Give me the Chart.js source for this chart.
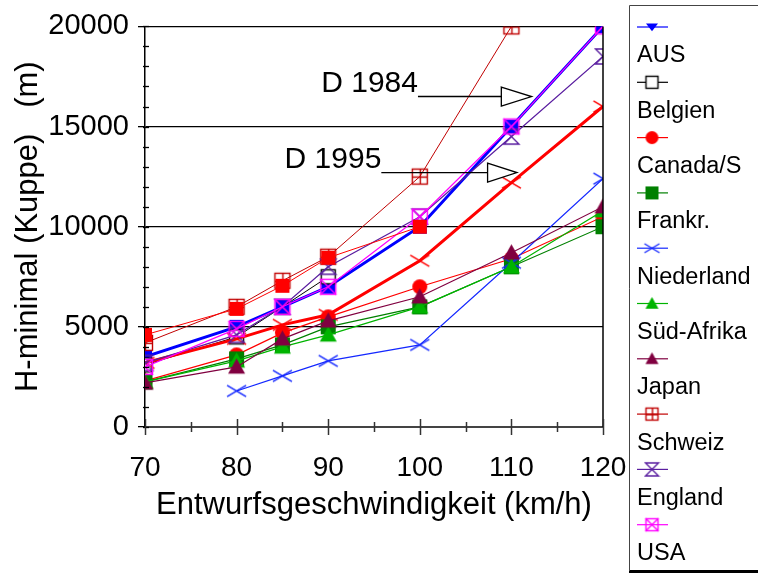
<!DOCTYPE html>
<html><head><meta charset="utf-8">
<script src="https://cdn.jsdelivr.net/npm/chart.js@4/dist/chart.umd.min.js"></script>
<style>html,body{margin:0;padding:0;background:#fff}#wrap{width:758px;height:576px;position:relative}</style>
</head><body><div id="wrap"><canvas id="c" width="758" height="576"></canvas></div>
<script>
// ---- data ----
const speeds = [70, 80, 85, 90, 100, 110, 120];
const xTicks = [70, 80, 90, 100, 110, 120];
const yTicks = [0, 5000, 10000, 15000, 20000];
const legendNames = ['AUS','Belgien','Canada/S','Frankr.','Niederland','Süd-Afrika','Japan','Schweiz','England','USA'];
const aus        = [3500, 5000, 6000, 7000, 10000, 15000, 20000];
const belgien    = [3100, 4500, null, 7500, null, null, null];
const canada     = [2300, 3600, 4700, 5500, 7000, 8400, 10500];
const frankr     = [2250, 3400, 4100, 5000, 6000, 8000, 10000];
const niederland = [null, 1800, 2550, 3300, 4100, 8200, 12400];
const suedafrika = [2250, 3300, 4000, 4600, 6000, 8000, 10800];
const japan      = [2200, 3000, 4400, 5300, 6500, 8700, 11000];
const schweiz    = [4200, 6000, 7300, 8500, 12500, 20000, null];
const england    = [3200, 4600, 6000, 8000, 10500, 14500, 18500];
const usa        = [3000, 4900, 6000, 7000, 10500, 15000, 20000];
const d1984      = [3500, 5000, 6000, 7000, 10000, 15000, 20000];
const d1995      = [3200, 4400, 5100, 5600, 8300, 12200, 16000];
const redSquares = [4600, 5900, 7050, 8450, 10000, null, null];
const annotations = [
  {text:'D 1984', xText:99.8, xLineEnd:108.9, xTip:112.2, y:16500},
  {text:'D 1995', xText:95.8, xLineEnd:107.4, xTip:110.6, y:12700}
];

const FONT = "'Liberation Sans', Arial, Helvetica, sans-serif";

function drawMarker(g, kind, color, x, y, s) {
  const h = s/2;
  g.save();
  g.strokeStyle = color; g.fillStyle = color; g.lineWidth = 1.4;
  g.beginPath();
  switch(kind) {
    case 'sqFill': g.fillRect(x-h, y-h, s, s); break;
    case 'sqOpen': g.fillStyle='#fff'; g.fillRect(x-h,y-h,s,s); g.strokeRect(x-h+0.5, y-h+0.5, s-1, s-1); break;
    case 'circle': g.arc(x, y, h, 0, Math.PI*2); g.fill(); break;
    case 'tri': g.moveTo(x, y-h); g.lineTo(x+h, y+h*0.8); g.lineTo(x-h, y+h*0.8); g.closePath(); g.fill(); break;
    case 'triDown': g.moveTo(x-h, y-h*0.6); g.lineTo(x+h, y-h*0.6); g.lineTo(x, y+h*0.7); g.closePath(); g.fill(); break;
    case 'x': g.moveTo(x-h, y-h*0.6); g.lineTo(x+h, y+h*0.6); g.moveTo(x+h, y-h*0.6); g.lineTo(x-h, y+h*0.6); g.stroke(); break;
    case 'sqPlus': g.strokeRect(x-h+0.5, y-h+0.5, s-1, s-1); g.moveTo(x+0.5, y-h); g.lineTo(x+0.5, y+h); g.moveTo(x-h, y+0.5); g.lineTo(x+h, y+0.5); g.stroke(); break;
    case 'sqX': g.strokeRect(x-h+0.5, y-h+0.5, s-1, s-1); g.moveTo(x-h, y-h); g.lineTo(x+h, y+h); g.moveTo(x+h, y-h); g.lineTo(x-h, y+h); g.stroke(); break;
    case 'hour': g.moveTo(x-h, y-h); g.lineTo(x+h, y-h); g.lineTo(x-h, y+h); g.lineTo(x+h, y+h); g.closePath(); g.stroke(); break;
  }
  g.restore();
}
function makeMarker(kind, color, s) {
  const c = document.createElement('canvas');
  const n = s + 4;
  c.width = n; c.height = n;
  drawMarker(c.getContext('2d'), kind, color, n/2, n/2, s);
  return c;
}

function ds(label, values, color, kind, size, lw, inLegend, legendSize) {
  return {
    label: label,
    data: speeds.map((v, i) => ({x: v, y: values[i]})),
    borderColor: color, backgroundColor: color,
    borderWidth: lw, pointStyle: makeMarker(kind, color, size),
    pointRadius: size/2, spanGaps: true, tension: 0,
    inLegend: inLegend,
    legendMarker: makeMarker(kind, color, legendSize || 13)
  };
}

const datasets = [
  ds('D 1984', d1984, '#0000ff', 'sqFill', 14, 3, false),
  ds('', redSquares, '#ff0000', 'sqFill', 14, 1, false),
  ds(legendNames[9], usa, '#ff00ff', 'sqX', 16, 1.2, true),
  ds(legendNames[8], england, '#5a1ea0', 'hour', 15, 1.2, true),
  ds(legendNames[7], schweiz, '#c00000', 'sqPlus', 16, 1, true),
  ds(legendNames[6], japan, '#800040', 'tri', 17, 1.2, true),
  ds(legendNames[5], suedafrika, '#00b400', 'tri', 17, 1.2, true),
  ds(legendNames[4], niederland, '#1428ff', 'x', 19, 1.2, true, 15),
  ds(legendNames[3], frankr, '#008000', 'sqFill', 15, 1.2, true),
  ds(legendNames[2], canada, '#ff0000', 'circle', 15, 1.2, true),
  ds('D 1995', d1995, '#ff0000', 'x', 19, 3, false),
  ds(legendNames[1], belgien, '#000000', 'sqOpen', 15, 1, true),
  ds(legendNames[0], aus, '#0000ff', 'triDown', 10, 1.2, true, 12)
];
// AUS lies under the thick D 1984 line
datasets[datasets.length-1].order = 5;
datasets[0].order = 1;

const decor = {
  id: 'decor',
  afterDraw(chart) {
    const g = chart.ctx, xs = chart.scales.x, ys = chart.scales.y, a = chart.chartArea;
    g.save();
    // right border
    g.strokeStyle = '#000'; g.lineWidth = 1.5;
    g.beginPath(); g.moveTo(a.right, a.top); g.lineTo(a.right, a.bottom); g.stroke();
    // y minor ticks
    g.lineWidth = 1.3;
    for (let v = 0; v <= 20000; v += 1000) {
      const y = Math.round(ys.getPixelForValue(v)) + 0.5;
      g.beginPath(); g.moveTo(a.left - 2, y); g.lineTo(a.left + 4, y); g.stroke();
    }
    // x ticks
    g.strokeStyle = '#333'; g.lineWidth = 1.5;
    for (let v = 70; v <= 120; v += 5) {
      const x = Math.round(xs.getPixelForValue(v)) + 0.5;
      const major = v % 10 === 0;
      g.beginPath(); g.moveTo(x, a.bottom - (major ? 8 : 5)); g.lineTo(x, a.bottom + (major ? 8 : 5)); g.stroke();
    }
    // annotations
    annotations.forEach(an => {
      const yy = ys.getPixelForValue(an.y);
      const xt = xs.getPixelForValue(an.xText), xe = xs.getPixelForValue(an.xLineEnd), xp = xs.getPixelForValue(an.xTip);
      g.fillStyle = '#000'; g.font = '30px ' + FONT; g.textAlign = 'right'; g.textBaseline = 'alphabetic';
      g.fillText(an.text, xt, yy - 5);
      g.strokeStyle = '#000'; g.lineWidth = 1.3;
      g.beginPath(); g.moveTo(xt, yy); g.lineTo(xe, yy); g.stroke();
      g.fillStyle = '#fff';
      g.beginPath(); g.moveTo(xe, yy - 9.5); g.lineTo(xp, yy); g.lineTo(xe, yy + 9.5); g.closePath(); g.fill(); g.stroke();
    });
    // legend box
    g.fillStyle = '#000';
    g.fillRect(629, 570, 140, 3);
    g.strokeStyle = '#444'; g.lineWidth = 1;
    g.beginPath(); g.moveTo(629.5, 571); g.lineTo(629.5, 5.5); g.lineTo(760, 5.5); g.stroke();
    const items = chart.data.datasets.filter(d => d.inLegend);
    items.sort((p, q) => legendNames.indexOf(p.label) - legendNames.indexOf(q.label));
    items.forEach((d, i) => {
      const my = 27 + i * 55.3;
      g.strokeStyle = d.borderColor; g.lineWidth = 1.2;
      g.beginPath(); g.moveTo(637, my); g.lineTo(668, my); g.stroke();
      const m = d.legendMarker;
      g.drawImage(m, 652 - m.width/2, my - m.height/2);
      g.fillStyle = '#000'; g.font = '23.5px ' + FONT; g.textAlign = 'left'; g.textBaseline = 'middle';
      g.fillText(d.label, 637, my + 29);
    });
    g.restore();
  }
};

new Chart(document.getElementById('c'), {
  type: 'line',
  data: { datasets: datasets },
  options: {
    responsive: false, animation: false, devicePixelRatio: 1,
    layout: { padding: { left: 0, right: 155, top: 26, bottom: 0 } },
    plugins: { legend: { display: false }, tooltip: { enabled: false } },
    scales: {
      x: {
        type: 'linear', min: 70, max: 120,
        afterFit(s) { s.height = 149; },
        afterBuildTicks(s) { s.ticks = xTicks.map(v => ({ value: v })); },
        grid: { display: false, drawTicks: false },
        border: { display: true, color: '#444', width: 2 },
        ticks: { font: { size: 28, family: FONT }, color: '#000', padding: 24, maxRotation: 0, autoSkip: false,
                 callback: v => String(v) },
        title: { display: true, text: 'Entwurfsgeschwindigkeit (km/h)', font: { size: 31, family: FONT }, color: '#000', padding: { top: 0, bottom: 52 } }
      },
      y: {
        min: 0, max: 20000,
        afterFit(s) { s.width = 145; },
        afterBuildTicks(s) { s.ticks = yTicks.map(v => ({ value: v })); },
        grid: { color: '#000', lineWidth: 1.3, drawTicks: true, tickLength: 7 },
        border: { display: true, color: '#000', width: 1.5 },
        ticks: { font: { size: 29, family: FONT }, color: '#000', padding: 9, autoSkip: false,
                 callback: v => String(v) },
        title: { display: true, text: 'H-minimal (Kuppe)   (m)', font: { size: 31, family: FONT }, color: '#000', padding: { top: 10, bottom: 0 } }
      }
    }
  },
  plugins: [decor]
});
</script>
</body></html>
